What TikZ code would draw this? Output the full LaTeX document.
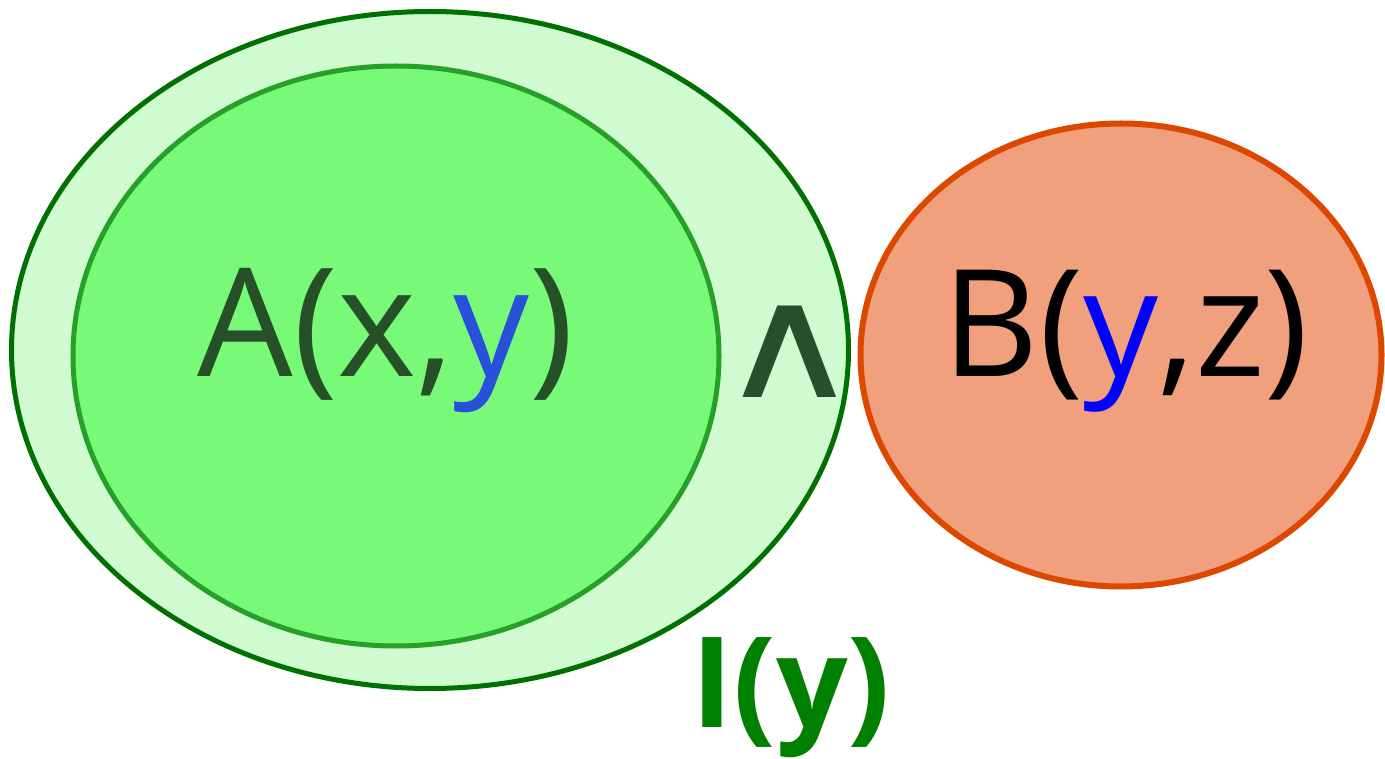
\documentclass[tikz,border=0pt]{standalone}
\usepackage{fontspec}
\usepackage{graphicx}
\setmainfont{Open Sans}
\newfontfamily\symfont{DejaVu Sans}
\definecolor{outerfill}{RGB}{208,251,208}
\definecolor{outerline}{RGB}{0,112,0}
\definecolor{innerfill}{RGB}{120,250,120}
\definecolor{innerline}{RGB}{38,160,38}
\definecolor{orangeline}{RGB}{221,72,0}
\definecolor{orangefill}{RGB}{240,160,125}
\definecolor{darkgreen}{RGB}{38,80,40}
\definecolor{yblue}{RGB}{40,80,216}
\definecolor{ygreen}{RGB}{0,128,0}
\tikzset{
  setellipse/.style={ellipse, draw, inner sep=0pt},
}
\usetikzlibrary{shapes.geometric}
\begin{document}
\begin{tikzpicture}[x=1pt,y=-1pt]
\useasboundingbox (0,0) rectangle (1385,759);
\node[setellipse, fill=outerfill, draw=outerline, line width=5pt, minimum width=837pt, minimum height=677pt] (outer) at (430,350) {};
\node[setellipse, fill=innerfill, draw=innerline, line width=5pt, minimum width=646pt, minimum height=580pt] (inner) at (396,356) {};
\node[setellipse, fill=orangefill, draw=orangeline, line width=6pt, minimum width=521pt, minimum height=463pt] (orange) at (1121,355) {};
\node[font=\fontsize{151}{155}\selectfont, text=darkgreen, inner sep=0pt] (A) at (386,341) {A(x,\textcolor{yblue}{y})};
\node[font=\fontsize{149}{155}\selectfont, text=black, inner sep=0pt] (B) at (1126,341) {B(\textcolor{blue}{y},z)};
\node[font=\symfont\fontsize{158}{158}\selectfont, text=darkgreen, inner sep=0pt] (and) at (790,352) {\scalebox{1.25}[1]{∧}};
\node[font=\bfseries\fontsize{126}{130}\selectfont, text=ygreen, inner sep=0pt] (I) at (791,698) {I(y)};
\end{tikzpicture}
\end{document}
